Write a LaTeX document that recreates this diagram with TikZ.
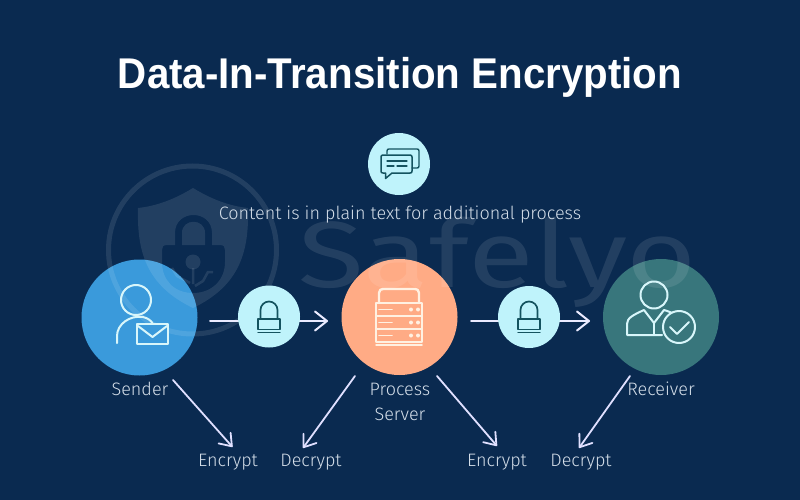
\documentclass[tikz,border=0pt]{standalone}
\usepackage{fontspec}
\setmainfont{Fira Sans}
\newfontfamily\lightf{Fira Sans Light}
\newfontfamily\titlef{Liberation Sans}
\usetikzlibrary{arrows.meta}
\definecolor{bgc}{HTML}{0A2A50}
\definecolor{senderc}{HTML}{3A9ADB}
\definecolor{pale}{HTML}{BFF3FB}
\definecolor{orangec}{HTML}{FFAB85}
\definecolor{recvc}{HTML}{38767C}
\definecolor{iconteal}{HTML}{14535F}
\definecolor{labelc}{HTML}{D3DDE8}
\definecolor{iconlight}{HTML}{D8F6FA}
\definecolor{iconcream}{HTML}{FFF1E2}
\tikzset{
  x=1pt,y=-1pt,
  bigcircle/.style={circle,minimum size=116pt,inner sep=0pt,draw=none},
  smallcircle/.style={circle,fill=pale,minimum size=62pt,inner sep=0pt,draw=none},
  lbl/.style={font=\lightf\fontsize{18}{20}\selectfont,text=labelc,inner sep=0pt,anchor=base},
  conn/.style={draw=white!92!blue,line width=2pt,line cap=round,-{Straight Barb[length=12pt,width=19pt,round]}},
  diag/.style={draw=white!88!blue,line width=1.8pt,line cap=round,-{Straight Barb[length=11pt,width=16pt,round]}},
  wm/.style={fill=white,fill opacity=0.1,draw=none},
  icl/.style={draw=iconlight,line width=2pt,line cap=round,line join=round},
  ict/.style={draw=iconteal,line width=1.7pt,line join=round,line cap=round},
  icc/.style={draw=iconcream,line width=2.4pt,line join=round,line cap=round},
}
\begin{document}
\begin{tikzpicture}
\useasboundingbox (0,0) rectangle (800,500);
\fill[bgc] (0,0) rectangle (800,500);

% main circles
\node[bigcircle,fill=senderc] (sender) at (139.5,317.5) {};
\node[bigcircle,fill=orangec] (server) at (399.5,317) {};
\node[bigcircle,fill=recvc] (receiver) at (661,317) {};

% watermark
\draw[draw=white,draw opacity=0.1,line width=5pt] (192.5,250) circle (84);
\fill[wm,even odd rule]
  (193,188) .. controls (175,199) and (157,206) .. (138,208)
  .. controls (137,250) and (145,285) .. (193,308)
  .. controls (241,285) and (249,250) .. (248,208)
  .. controls (229,206) and (211,199) .. (193,188) -- cycle
  (167,245) -- (175,245) -- (175,233) .. controls (175,209) and (212,209) .. (212,233)
  -- (212,245) -- (220,245) .. controls (224,245) and (225,247) .. (225,250)
  -- (225,262) .. controls (225,280) and (212,293) .. (193,293)
  .. controls (174,293) and (162,280) .. (162,262) -- (162,250)
  .. controls (162,247) and (163,245) .. (167,245) -- cycle
  (182,245) -- (205,245) -- (205,233) .. controls (205,218) and (182,218) .. (182,233) -- cycle;
\fill[wm] (193,262) circle (7.5);
\draw[draw=white,draw opacity=0.1,line width=2.5pt]
  (193,268) -- (193,284) (172,268) -- (177,276) -- (190,283) (213,272) -- (208,272) -- (203,281) -- (195,286);
\node[anchor=base west,inner sep=0pt,font=\fontsize{94}{94}\selectfont,text=white,text opacity=0.1] (mark) at (298,287) {\scalebox{1.28}[1]{Safelyo}};

% title and labels
\node[font=\titlef\bfseries\fontsize{43}{46}\selectfont,text=white,inner sep=0pt,anchor=base] (title) at (400,89) {\scalebox{0.937}[1]{Data-In-Transition Encryption}};
\node[lbl] (content) at (400,219) {Content is in plain text for additional process};
\node[lbl] (lsender) at (140,395) {Sender};
\node[lbl] (lprocess) at (400,395) {Process};
\node[lbl] (lserver) at (400,420) {Server};
\node[lbl] (lreceiver) at (661,395) {Receiver};
\node[lbl] (enc1) at (228,466) {Encrypt};
\node[lbl] (dec1) at (311,466) {Decrypt};
\node[lbl] (enc2) at (497,466) {Encrypt};
\node[lbl] (dec2) at (581,466) {Decrypt};

% connectors
\coordinate (a1s) at (210,321);
\coordinate (a1e) at (328,321);
\coordinate (a2s) at (471,321);
\coordinate (a2e) at (590,321);
\draw[conn] (a1s) -- (a1e);
\draw[conn] (a2s) -- (a2e);
\coordinate (d1s) at (173,380);
\coordinate (d1e) at (232.5,447);
\coordinate (d2s) at (355,376);
\coordinate (d2e) at (303,448);
\coordinate (d3s) at (437,376);
\coordinate (d3e) at (497,446);
\coordinate (d4s) at (630,376);
\coordinate (d4e) at (579,448);
\draw[diag] (d1s) -- (d1e);
\draw[diag] (d2s) -- (d2e);
\draw[diag] (d3s) -- (d3e);
\draw[diag] (d4s) -- (d4e);

% small circles
\node[smallcircle] (lock1) at (269,316.5) {};
\node[smallcircle] (lock2) at (529,317) {};
\node[smallcircle] (chat) at (399,164) {};

% lock icons
\foreach \dx in {0,260}{
  \begin{scope}[xshift=\dx pt]
    \draw[ict] (260.5,319) -- (260.5,310) arc[start angle=180,end angle=360,radius=8.5] -- (277.5,319);
    \draw[ict] (258,319) rectangle (280,329.5);
    \draw[ict,line width=1.4pt] (258,332.5) -- (280,332.5);
  \end{scope}
}

% chat icon
\draw[ict,line width=1.4pt] (387,154) -- (387,151) .. controls (387,149.5) and (388,149) .. (389,149) -- (417,149) .. controls (418,149) and (419,149.5) .. (419,151) -- (419,166) .. controls (419,167.5) and (418,168) .. (417,168) -- (412,168);
\draw[ict,line width=1.5pt] (383,155) -- (410,155) .. controls (411.5,155) and (412,156) .. (412,157) -- (412,171) .. controls (412,172.5) and (411.5,173) .. (410,173) -- (392,173) -- (385.5,178.5) -- (385.5,173) -- (383,173) .. controls (381.5,173) and (381,172.5) .. (381,171) -- (381,157) .. controls (381,156) and (381.5,155) .. (383,155) -- cycle;
\draw[ict,line width=1.3pt] (387,161) -- (407,161) (387,166) -- (394,166) (397,166) -- (407,166);

% sender icon
\draw[icl] (136,300) circle (15);
\draw[icl] (117,343) -- (117,336) .. controls (117,324) and (130,315) .. (143,317) .. controls (147,318) and (151,320) .. (153,324);
\fill[senderc] (137,324) rectangle (168,344);
\draw[icl] (137,324) rectangle (168,344);
\draw[icl] (138,326) -- (152.5,337) -- (167,326);

% server icon
\draw[icc] (379,303) -- (379,293) .. controls (379,290) and (381,289) .. (383,289) -- (415,289) .. controls (417,289) and (419,290) .. (419,293) -- (419,303);
\draw[icc] (377,303) -- (421,303) (377,316) -- (421,316) (377,329) -- (421,329);
\draw[icc] (376,303) rectangle (422,342);
\draw[icc,line width=1.5pt] (376,345) -- (422,345);
\foreach \yy in {309.5,322.5,335.5}{
  \draw[icc,line width=1.8pt] (379,\yy) -- (392,\yy);
  \fill[iconcream] (411,\yy) circle (2) (418,\yy) circle (2);
}

% receiver icon
\draw[icl] (654,295) circle (13.5);
\draw[icl] (662,335) -- (627,335) -- (627,324) .. controls (627,318) and (633,315) .. (644,310) -- (654,323) -- (664,310) .. controls (668,311) and (672,313) .. (674,314);
\draw[icl] (654,323) -- (654,335);
\fill[recvc] (679,327) circle (16);
\draw[icl] (679,327) circle (16);
\draw[icl] (670,327) -- (677,334) -- (689,322);
\end{tikzpicture}
\end{document}
